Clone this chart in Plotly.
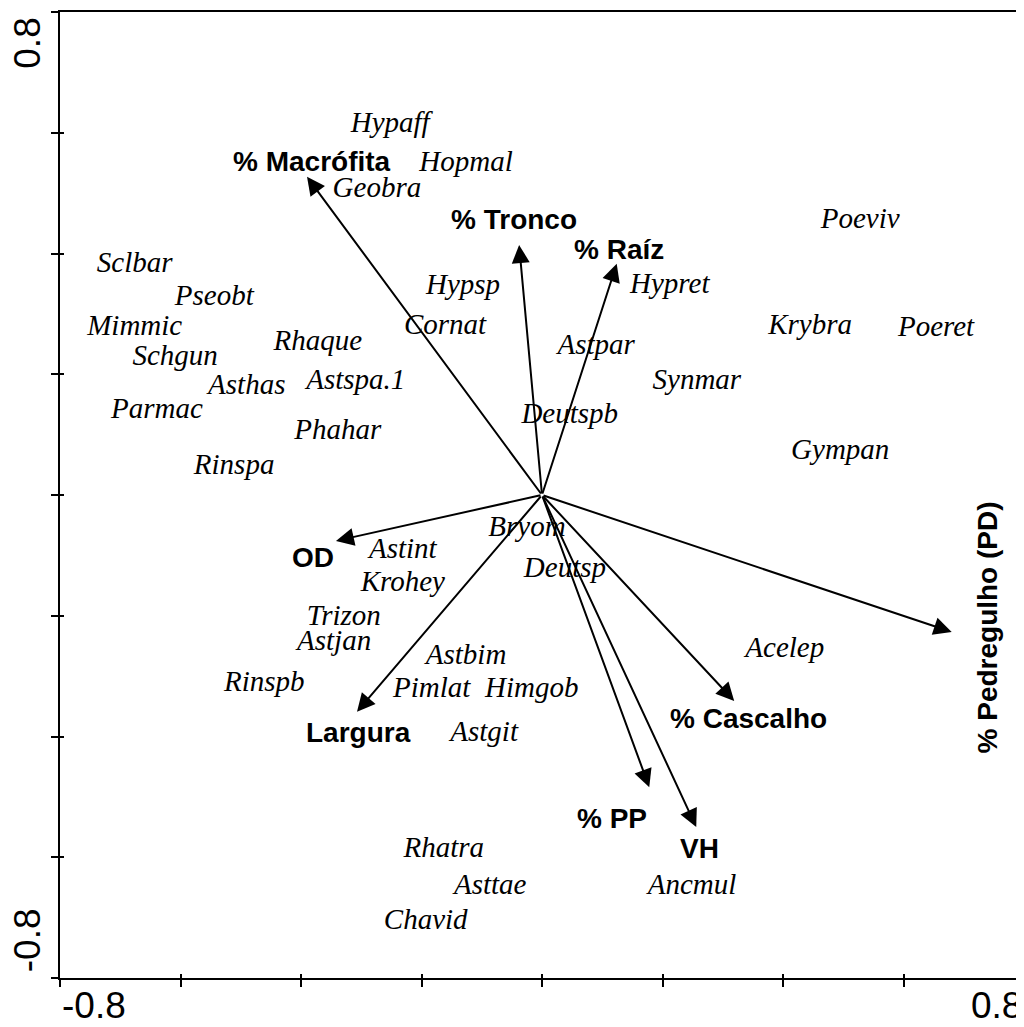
import plotly.graph_objects as go

# species scores (axis 1, axis 2)
species = ["Hypaff", "Hopmal", "Geobra", "Poeviv", "Sclbar", "Pseobt", "Hypsp", "Hypret",
           "Mimmic", "Cornat", "Krybra", "Poeret", "Rhaque", "Schgun", "Astpar", "Asthas",
           "Astspa.1", "Synmar", "Parmac", "Deutspb", "Phahar", "Gympan", "Rinspa", "Bryom",
           "Astint", "Krohey", "Deutsp", "Trizon", "Astjan", "Acelep", "Astbim", "Rinspb",
           "Pimlat", "Himgob", "Astgit", "Rhatra", "Asttae", "Ancmul", "Chavid"]
sp_x = [-0.252, -0.126, -0.274, 0.528, -0.676, -0.544, -0.131, 0.212,
        -0.676, -0.161, 0.445, 0.654, -0.372, -0.609, 0.090, -0.490,
        -0.309, 0.257, -0.639, 0.046, -0.339, 0.495, -0.511, -0.025,
        -0.231, -0.231, 0.038, -0.329, -0.345, 0.403, -0.126, -0.461,
        -0.183, -0.017, -0.096, -0.163, -0.086, 0.249, -0.193]
sp_y = [0.614, 0.548, 0.505, 0.455, 0.381, 0.326, 0.345, 0.346,
        0.277, 0.278, 0.278, 0.275, 0.253, 0.227, 0.245, 0.179,
        0.187, 0.187, 0.139, 0.131, 0.104, 0.071, 0.046, -0.056,
        -0.093, -0.147, -0.123, -0.204, -0.245, -0.257, -0.268, -0.313,
        -0.323, -0.323, -0.396, -0.588, -0.649, -0.649, -0.707]

# environmental vectors
env = ["% Macrófita", "% Tronco", "% Raíz", "% Pedregulho (PD)", "% Cascalho",
       "% PP", "VH", "Largura", "OD"]
env_x = [-0.390, -0.038, 0.124, 0.680, 0.319, 0.178, 0.256, -0.307, -0.342]
env_y = [0.527, 0.414, 0.383, -0.227, -0.341, -0.484, -0.550, -0.359, -0.076]
# where each vector's name sits
lab_x = [-0.382, -0.046, 0.128, 0.739, 0.342, 0.116, 0.261, -0.304, -0.380]
lab_y = [0.552, 0.457, 0.407, -0.219, -0.371, -0.535, -0.586, -0.394, -0.103]
lab_angle = [0, 0, 0, -90, 0, 0, 0, 0, 0]

tick_vals = [-0.8, -0.6, -0.4, -0.2, 0, 0.2, 0.4, 0.6, 0.8]
rng = [-0.8, 0.8]

fig = go.Figure()
fig.add_trace(go.Scatter(x=sp_x, y=sp_y, text=species, mode="text",
                         textfont=dict(family="Liberation Serif", size=29, color="black", style="italic"),
                         hoverinfo="text", showlegend=False))

for i in range(len(env)):
    fig.add_annotation(x=env_x[i], y=env_y[i], ax=0, ay=0, xref="x", yref="y", axref="x", ayref="y",
                       text="", showarrow=True, arrowhead=2, arrowsize=1.8, arrowwidth=2,
                       arrowcolor="black", standoff=0, startstandoff=0)
    fig.add_annotation(x=lab_x[i], y=lab_y[i], xref="x", yref="y", text=env[i], showarrow=False,
                       textangle=lab_angle[i],
                       font=dict(family="Liberation Sans", size=28, color="black", weight="bold"))

# end labels of the axes
tick_font = dict(family="Liberation Sans", size=37, color="black")
fig.add_annotation(x=-0.8, y=-0.034, xref="x", yref="paper", text="-0.8", showarrow=False,
                   xanchor="left", yanchor="middle", yshift=5, font=tick_font)
fig.add_annotation(x=0.8, y=-0.034, xref="x", yref="paper", text="0.8", showarrow=False,
                   xanchor="right", yanchor="middle", yshift=5, font=tick_font)
fig.add_annotation(x=-0.034, y=0.8, xref="paper", yref="y", text="0.8", showarrow=False,
                   textangle=-90, xanchor="center", yanchor="top", yshift=-4, font=tick_font)
fig.add_annotation(x=-0.034, y=-0.8, xref="paper", yref="y", text="-0.8", showarrow=False,
                   textangle=-90, xanchor="center", yanchor="bottom", yshift=4, font=tick_font)

# faint right border
fig.add_shape(type="line", xref="paper", yref="paper", x0=0.998, x1=0.998, y0=0, y1=1,
              line=dict(color="#bbbbbb", width=1.5))

axis_common = dict(range=rng, tickvals=tick_vals, showticklabels=False, showgrid=False,
                   zeroline=False, tickcolor="black", tickwidth=1.5)
# the page body adds 8px around the figure, so the figure is 8px smaller
fig.update_layout(
    width=1016, height=1019,
    margin=dict(l=52, r=0, t=4, b=49),
    paper_bgcolor="white", plot_bgcolor="white",
    xaxis=dict(**axis_common, showline=True, linecolor="black", linewidth=2, mirror=True,
               ticks="outside", ticklen=7),
    yaxis=dict(**axis_common, showline=True, linecolor="black", linewidth=2,
               ticks="outside", ticklen=7),
    xaxis2=dict(**axis_common, overlaying="x", side="bottom", ticks="inside", ticklen=4,
                showline=False, anchor="y"),
    yaxis2=dict(**axis_common, overlaying="y", side="left", ticks="inside", ticklen=4,
                showline=False, anchor="x"),
    showlegend=False,
)
fig.add_trace(go.Scatter(x=[None], y=[None], xaxis="x2", yaxis="y2", showlegend=False))

fig.write_html("out.html")
